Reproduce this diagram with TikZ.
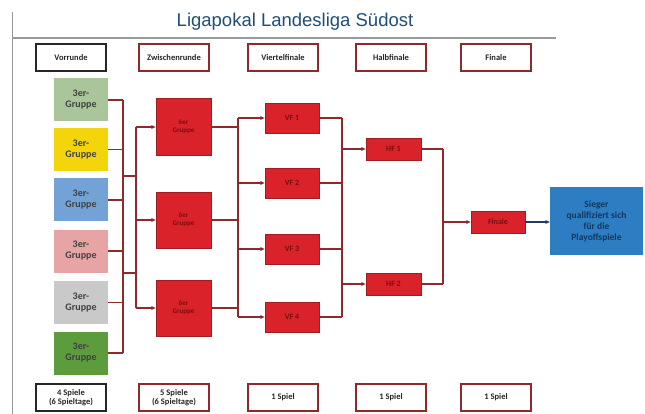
\documentclass[tikz,border=0pt]{standalone}
\usepackage{fontspec}
\setmainfont{Carlito}
\newfontfamily\titlefont{Liberation Sans}
\usetikzlibrary{arrows.meta}
\definecolor{titleblue}{HTML}{1F4E79}
\definecolor{gline}{HTML}{999999}
\definecolor{maroon}{HTML}{8E2A2E}
\definecolor{redbox}{HTML}{D92229}
\definecolor{redborder}{HTML}{A01C20}
\definecolor{redtext}{HTML}{7A0E10}
\definecolor{gA}{HTML}{A8C69A}
\definecolor{gB}{HTML}{F4D50C}
\definecolor{gC}{HTML}{73A3D6}
\definecolor{gD}{HTML}{E6A4A4}
\definecolor{gE}{HTML}{C9C9C9}
\definecolor{gF}{HTML}{5C9C3C}
\definecolor{bluebox}{HTML}{2C7DC2}
\definecolor{bluetext}{HTML}{14365F}
\definecolor{navy}{HTML}{1F3A6E}
\tikzset{
  x=1pt, y=-1pt,
  labelbox/.style={draw=maroon, line width=1.3pt, fill=white, minimum width=70pt, minimum height=27pt, inner sep=1pt, font=\fontsize{8.5}{9.5}\selectfont\bfseries, align=center, text=black!85},
  grpbox/.style={draw=none, minimum width=54pt, minimum height=43pt, inner sep=1pt, font=\fontsize{10}{11}\selectfont\bfseries, align=center, text=black!75},
  redbx/.style={draw=redborder, line width=0.8pt, fill=redbox, inner sep=1pt, align=center, text=redtext, font=\fontsize{8}{9}\selectfont\bfseries},
  sixbox/.style={redbx, minimum width=55pt, minimum height=56pt, font=\fontsize{7}{8}\selectfont\bfseries},
  vfbox/.style={redbx, minimum width=54pt, minimum height=30pt},
  hfbox/.style={redbx, minimum width=55pt, minimum height=22pt},
  conn/.style={draw=maroon, line width=1.2pt},
  arr/.style={conn, -{Stealth[length=4.5pt,width=4pt]}},
}
\begin{document}
\begin{tikzpicture}
\useasboundingbox[fill=white] (0,0) rectangle (645,414);
% frame lines
\coordinate (vtop) at (12,12);
\coordinate (vbot) at (12,414);
\coordinate (hl) at (12,38);
\coordinate (hr) at (556,38);
\draw[gline, line width=0.8pt] (vtop) -- (vbot);
\draw[gline, line width=1.2pt] (hl) -- (hr);
\node[font=\titlefont\fontsize{18.5}{20}\selectfont, text=titleblue] (title) at (295,22) {Ligapokal Landesliga Südost};
% headers
\node[labelbox, draw=black!85] (h1) at (71,57.5) {Vorrunde};
\node[labelbox] (h2) at (174,57.5) {Zwischenrunde};
\node[labelbox] (h3) at (283,57.5) {Viertelfinale};
\node[labelbox] (h4) at (391,57.5) {Halbfinale};
\node[labelbox] (h5) at (496,57.5) {Finale};
% footers
\node[labelbox, draw=black!85] (f1) at (71,397.5) {4 Spiele\\(6 Spieltage)};
\node[labelbox] (f2) at (174,397.5) {5 Spiele\\(6 Spieltage)};
\node[labelbox] (f3) at (283,397.5) {1 Spiel};
\node[labelbox] (f4) at (391,397.5) {1 Spiel};
\node[labelbox] (f5) at (496,397.5) {1 Spiel};
% 3er groups
\node[grpbox, fill=gA] (g1) at (81,100) {3er-\\Gruppe};
\node[grpbox, fill=gB] (g2) at (81,149.5) {3er-\\Gruppe};
\node[grpbox, fill=gC] (g3) at (81,200) {3er-\\Gruppe};
\node[grpbox, fill=gD] (g4) at (81,251) {3er-\\Gruppe};
\node[grpbox, fill=gE] (g5) at (81,302.5) {3er-\\Gruppe};
\node[grpbox, fill=gF] (g6) at (81,353) {3er-\\Gruppe};
% 6er groups
\node[sixbox, minimum height=57pt] (s1) at (183.5,127) {6er\\Gruppe};
\node[sixbox] (s2) at (183.5,220) {6er\\Gruppe};
\node[sixbox] (s3) at (183.5,308) {6er\\Gruppe};
% VF
\node[vfbox] (v1) at (292,118) {VF 1};
\node[vfbox] (v2) at (292,183) {VF 2};
\node[vfbox] (v3) at (292,249) {VF 3};
\node[vfbox] (v4) at (292,317) {VF 4};
% HF
\node[hfbox] (hf1) at (393.5,149) {HF 1};
\node[hfbox] (hf2) at (393.5,284) {HF 2};
% Finale
\node[redbx, minimum width=54pt, minimum height=22pt] (fin) at (498,222) {Finale};
% Sieger
\node[draw=none, fill=bluebox, minimum width=93pt, minimum height=68pt, inner sep=1pt, align=center, text=bluetext, font=\fontsize{9.5}{11}\selectfont\bfseries] (win) at (596.5,221) {Sieger\\qualifiziert sich\\für die\\Playoffspiele};
% --- connectors: 3er -> 6er
\coordinate (a1) at (123,100);
\coordinate (a6) at (123,353);
\coordinate (j1) at (123,176);
\coordinate (j2) at (123,273);
\coordinate (k1) at (136,176);
\coordinate (k2) at (136,273);
\coordinate (b1) at (136,127);
\coordinate (b3) at (136,308);
\coordinate (b2) at (136,220);
\foreach \g in {g1,g2,g3,g4,g5,g6} {\draw[conn] (\g.east) -- (\g.east -| a1);}
\draw[conn] (a1) -- (a6);
\draw[conn] (j1) -- (k1);
\draw[conn] (j2) -- (k2);
\draw[conn] (b1) -- (b3);
\draw[arr] (b1) -- (s1.west);
\draw[arr] (b2) -- (s2.west);
\draw[arr] (b3) -- (s3.west);
% 6er -> VF
\coordinate (c1) at (238,118);
\coordinate (c4) at (238,317);
\foreach \s in {s1,s2,s3} {\draw[conn] (\s.east) -- (\s.east -| c1);}
\draw[conn] (c1) -- (c4);
\foreach \v in {v1,v2,v3,v4} {\draw[arr] (\v.west -| c1) -- (\v.west);}
% VF -> HF
\coordinate (d1) at (342,118);
\coordinate (d4) at (342,317);
\foreach \v in {v1,v2,v3,v4} {\draw[conn] (\v.east) -- (\v.east -| d1);}
\draw[conn] (d1) -- (d4);
\draw[arr] (hf1.west -| d1) -- (hf1.west);
\draw[arr] (hf2.west -| d1) -- (hf2.west);
% HF -> Finale
\coordinate (e1) at (443,149);
\coordinate (e2) at (443,284);
\draw[conn] (hf1.east) -- (e1);
\draw[conn] (hf2.east) -- (e2);
\draw[conn] (e1) -- (e2);
\draw[arr] (fin.west -| e1) -- (fin.west);
% Finale -> Sieger
\draw[conn, draw=navy, -{Stealth[length=4.5pt,width=4pt]}] (fin.east) -- (fin.east -| win.west);
\end{tikzpicture}
\end{document}
